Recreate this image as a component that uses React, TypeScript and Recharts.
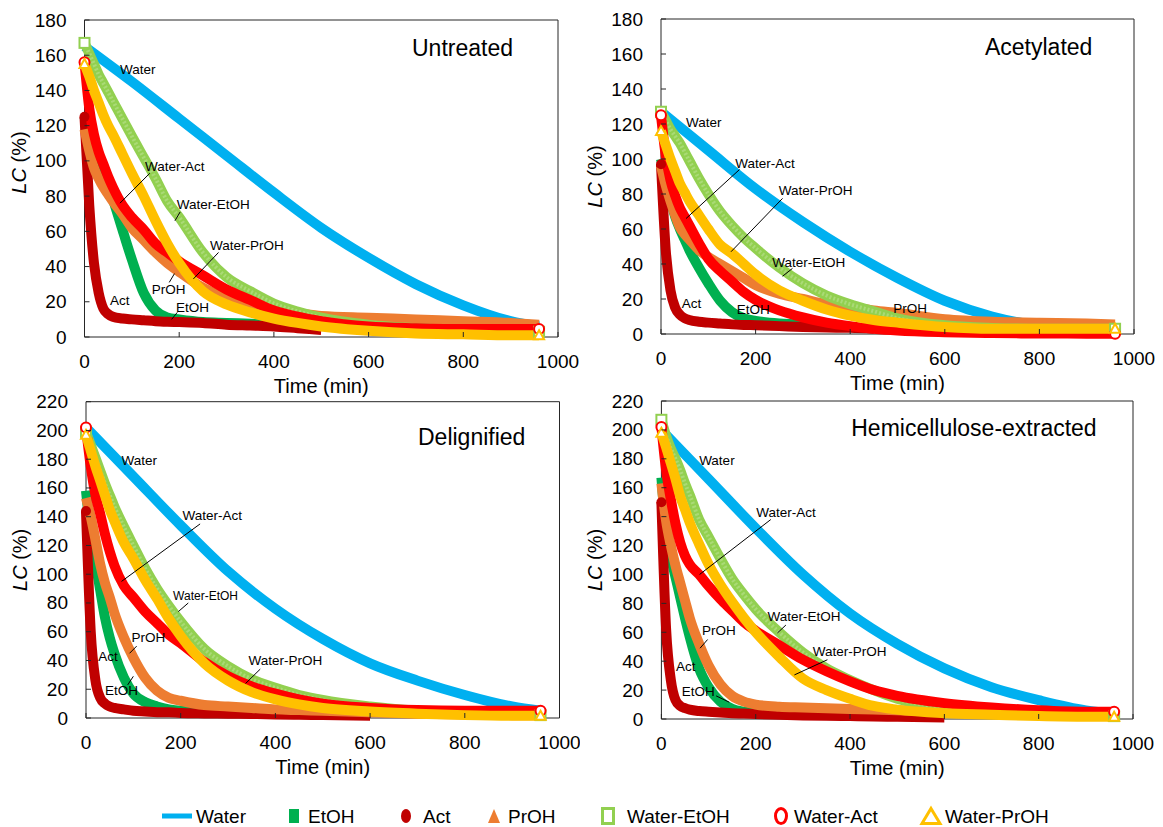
import React from "react";
import {
  LineChart,
  Line,
  XAxis,
  YAxis,
  ReferenceArea,
  ReferenceLine,
  ReferenceDot,
} from "recharts";

const FONT = '"Liberation Sans", Arial, Helvetica, sans-serif';
const _ = null;

// sampling times (min) shared by all curves
const TIME = [0, 10, 20, 30, 40, 50, 60, 80, 100, 125, 150, 175, 200, 250, 300, 350, 400, 450, 500, 600, 700, 800, 900, 960];
const X_TICKS = [0, 200, 400, 600, 800, 1000];
const Y_TICKS_180 = [0, 20, 40, 60, 80, 100, 120, 140, 160, 180];
const Y_TICKS_220 = [0, 20, 40, 60, 80, 100, 120, 140, 160, 180, 200, 220];

// Untreated
const U_WATER = [165, _, _, _, _, _, _, _, 145, _, _, _, 124, _, 103, _, 82, _, 62, 45, 30, 18, 9, 6];
const U_ETOH = [125, 115, 107, 100, 92, 85, 78, 61, 44, 25, 15, 11, 10, 8.5, 8, 7.5, 7, 6.5, _, _, _, _, _, _];
const U_ACT = [125, 75, 42, 25, 16, 13, 11.5, 10.5, 10, 9.5, 9, 8.7, 8.5, 8, 7, 6.5, 6, 5, 4, _, _, _, _, _];
const U_PROH = [118, 106, 96, 90, 85, 81, 77, 70, 62, 55, 48, 42, 37, 28, 22, 17.5, 15, 13.5, 12, 11, 10, 9, 8, 7];
const U_WETOH = [167, 161, 155, 149, 144, 139, 134, 124, 114, 102, 90, 77, 68, 48, 34, 26, 19, 14.5, 11, 7, 5, 4, 3, 3];
const U_WACT = [156, 130, 115, 105, 98, 91, 85, 75, 68, 61, 53, 48, 43, 35, 27, 21, 15, 11.5, 9, 6, 5, 4.5, 4.5, 4.5];
const U_WPROH = [155, 148, 140, 133, 126, 120, 115, 104, 93, 80, 66, 53, 42, 26, 18.5, 14, 10.5, 8, 6, 3.5, 2, 1.5, 1, 1];

// Acetylated
const A_WATER = [127, _, _, _, _, _, _, _, 105, _, _, _, 83, _, 64, _, 47, _, 32, 19, 10, 5, 4, 4];
const A_ETOH = [100, 88, 77, 67, 60, 54, 48, 38, 29, 19, 12.5, 9, 7.5, 6, 5.5, _, _, _, _, _, _, _, _, _];
const A_ACT = [97, 48, 25, 15, 11, 9, 8, 7, 6.5, 6, 5.5, 5.2, 5, 4.5, 4, 3.7, 3.5, 3, _, _, _, _, _, _];
const A_PROH = [96, 85, 76, 68, 61, 57, 54, 48, 44, 40, 36, 32, 28, 23, 20, 17, 15.5, 13.5, 12, 8.5, 7, 6.5, 6, 5.5];
const A_WETOH = [127, 122, 117, 113, 109, 104, 99, 89, 80, 70, 62, 55, 49, 38, 29, 22, 17, 13, 9, 5, 3.5, 3, 3, 3];
const A_WACT = [125, 102, 88, 79, 72, 67, 62, 52, 43, 36, 30, 24, 19.5, 13.5, 9.5, 6.5, 4.5, 3, 2, 1, 0.5, 0.3, 0.2, 0.2];
const A_WPROH = [116, 108, 100, 93, 86, 81, 76, 68, 60, 51, 46, 40, 34, 25, 19, 14, 10.5, 8, 6.5, 4, 3, 3, 3, 3];

// Delignified
const D_WATER = [202, _, _, _, _, _, _, _, 168, _, _, _, 134, _, 102, _, 76, _, 55, 38, 26, 16, 8, 5];
const D_ETOH = [158, 128, 108, 89, 70, 56, 45, 28, 17, 11, 8, 6, 5, 4.5, 4, _, _, _, _, _, _, _, _, _];
const D_ACT = [144, 60, 26, 14, 10, 8, 7, 6, 5, 4.5, 4, 4, 3.5, 3.2, 3, 2.8, 2.5, 2.2, 2, 1.5, _, _, _, _];
const D_PROH = [153, 140, 124, 107, 94, 84, 73, 56, 42, 28, 19, 14, 12, 9, 8, 7, 6, 5.5, 5, 4, 3, 2.5, 2, 2];
const D_WETOH = [199, 190, 181, 172, 163, 155, 147, 133, 120, 104, 90, 78, 67, 48, 36, 27, 21, 16, 12.5, 8, 5, 3.5, 2.5, 2];
const D_WACT = [202, 175, 155, 142, 128, 116, 106, 92, 84, 74, 66, 58, 52, 39, 29, 22, 17, 13, 10, 7, 5.5, 5, 5, 5];
const D_WPROH = [197, 186, 175, 165, 155, 145, 137, 122, 111, 96, 83, 69, 57, 38, 26, 18, 13, 9.5, 7, 4.5, 3, 2, 1.5, 1.5];

// Hemicellulose-extracted
const H_WATER = [200, _, _, _, _, _, _, _, 166, _, _, _, 132, _, 100, _, 73, _, 52, 35, 22, 13, 6, 4];
const H_ETOH = [167, 130, 112, 98, 84, 70, 57, 35, 22, 12, 7, 5, 4, 3.5, 3, _, _, _, _, _, _, _, _, _];
const H_ACT = [150, 62, 27, 13, 9, 7.5, 6.5, 5.5, 5, 4.5, 4, 3.8, 3.5, 3, 2.5, 2.2, 2, 1.8, 1.5, 1, _, _, _, _];
const H_PROH = [163, 137, 120, 106, 94, 82, 70, 52, 37, 24, 16, 12, 10, 8.5, 8, 7.5, 7, 6.5, 6, 5, 4, 3, 2.5, 2.5];
const H_WETOH = [207, 196, 187, 180, 172, 163, 155, 138, 126, 111, 97, 86, 76, 60, 46, 35, 27, 20, 14, 8, 5, 3, 2, 2];
const H_WACT = [202, 172, 152, 135, 122, 113, 107, 100, 92, 83, 75, 67, 61, 51, 41, 33, 26, 20, 16, 11, 8, 6, 5, 5];
const H_WPROH = [198, 188, 177, 166, 154, 145, 136, 121, 107, 93, 81, 70, 60, 43, 28, 20, 14, 9, 6.5, 4, 3, 2, 1.5, 1.5];

const SERIES = [
  { key: "water", name: "Water", color: "#00B0F0", marker: "dash" },
  { key: "etoh", name: "EtOH", color: "#00B050", marker: "square" },
  { key: "act", name: "Act", color: "#C00000", marker: "circle" },
  { key: "proh", name: "PrOH", color: "#ED7D31", marker: "triangle" },
  { key: "wetoh", name: "Water-EtOH", color: "#92D050", marker: "openSquare" },
  { key: "wact", name: "Water-Act", color: "#FF0000", marker: "openCircle" },
  { key: "wproh", name: "Water-PrOH", color: "#FFC000", marker: "openTriangle" },
];

type Note = { text: string; x: number; y: number; size?: number; line?: number[] };

const NOTES_U: Note[] = [
  { text: "Water", x: 75, y: 152 },
  { text: "Water-Act", x: 128, y: 97, line: [138, 93, 75, 76] },
  { text: "Water-EtOH", x: 195, y: 75, line: [202, 71, 191, 66] },
  { text: "Water-PrOH", x: 265, y: 52, line: [283, 48, 230, 33] },
  { text: "PrOH", x: 142, y: 27, line: [179, 31, 190, 36] },
  { text: "Act", x: 54, y: 21 },
  { text: "EtOH", x: 193, y: 17, line: [196, 14, 184, 10] },
];
const NOTES_A: Note[] = [
  { text: "Water", x: 53, y: 121 },
  { text: "Water-Act", x: 157, y: 97.5, line: [166, 94, 53, 66] },
  { text: "Water-PrOH", x: 249, y: 82, line: [257, 77.5, 148, 47] },
  { text: "Water-EtOH", x: 235, y: 41, line: [278, 37.5, 257, 33] },
  { text: "Act", x: 44, y: 17.5 },
  { text: "EtOH", x: 160, y: 14 },
  { text: "PrOH", x: 491, y: 14.7 },
];
const NOTES_D: Note[] = [
  { text: "Water", x: 75, y: 179 },
  { text: "Water-Act", x: 204, y: 141, line: [241, 135, 75, 95] },
  { text: "Water-EtOH", x: 184, y: 85, size: 12, line: [216, 80, 195, 74] },
  { text: "PrOH", x: 96, y: 56, line: [107, 50, 92, 45] },
  { text: "Act", x: 26, y: 43 },
  { text: "EtOH", x: 40, y: 19, line: [88, 23, 100, 29] },
  { text: "Water-PrOH", x: 343, y: 40, line: [368, 34, 337, 24] },
];
const NOTES_H: Note[] = [
  { text: "Water", x: 80, y: 179 },
  { text: "Water-Act", x: 201, y: 143, line: [232, 138, 81, 100] },
  { text: "Water-EtOH", x: 225, y: 71, line: [264, 65, 246, 59.5] },
  { text: "Water-PrOH", x: 321, y: 47, line: [352, 41, 282, 30.5] },
  { text: "PrOH", x: 86, y: 61, line: [98, 55, 82, 49] },
  { text: "Act", x: 31, y: 36 },
  { text: "EtOH", x: 43, y: 19, line: [116, 16, 144, 11.6] },
];

const PANELS = [
  {
    title: "Untreated", titleX: 905, titleY: 164, yMax: 180, yTicks: Y_TICKS_180,
    values: { water: U_WATER, etoh: U_ETOH, act: U_ACT, proh: U_PROH, wetoh: U_WETOH, wact: U_WACT, wproh: U_WPROH },
    notes: NOTES_U, left: 0, top: 0, width: 580, height: 399, mTop: 20, mRight: 22, yw: 84.5, yShift: -16,
  },
  {
    title: "Acetylated", titleX: 912, titleY: 164, yMax: 180, yTicks: Y_TICKS_180,
    values: { water: A_WATER, etoh: A_ETOH, act: A_ACT, proh: A_PROH, wetoh: A_WETOH, wact: A_WACT, wproh: A_WPROH },
    notes: NOTES_A, left: 580, top: 0, width: 580, height: 396, mTop: 19, mRight: 26, yw: 81, yShift: 0,
  },
  {
    title: "Delignified", titleX: 928, titleY: 195.5, yMax: 220, yTicks: Y_TICKS_220,
    values: { water: D_WATER, etoh: D_ETOH, act: D_ACT, proh: D_PROH, wetoh: D_WETOH, wact: D_WACT, wproh: D_WPROH },
    notes: NOTES_D, left: 0, top: 380, width: 580, height: 400, mTop: 21.7, mRight: 20.5, yw: 86, yShift: 0,
  },
  {
    title: "Hemicellulose-extracted", titleX: 923, titleY: 201, yMax: 220, yTicks: Y_TICKS_220,
    values: { water: H_WATER, etoh: H_ETOH, act: H_ACT, proh: H_PROH, wetoh: H_WETOH, wact: H_WACT, wproh: H_WPROH },
    notes: NOTES_H, left: 580, top: 380, width: 580, height: 401, mTop: 21, mRight: 27, yw: 81.4, yShift: 0,
  },
];

const XTick = (props: any) => {
  const { x, y, payload } = props;
  return (
    <g>
      <line x1={x} x2={x} y1={y} y2={y - 5} stroke="#262626" />
      <text x={x} y={y + 24} textAnchor="middle" dominantBaseline="central" fontSize={19} fontFamily={FONT} fill="#000">
        {payload.value}
      </text>
    </g>
  );
};

const YTick = (props: any) => {
  const { x, y, payload } = props;
  return (
    <g>
      <line x1={x} x2={x + 5} y1={y} y2={y} stroke="#262626" />
      <text x={x - 18} y={y} textAnchor="end" dominantBaseline="central" fontSize={19} fontFamily={FONT} fill="#000">
        {payload.value}
      </text>
    </g>
  );
};

// hollow / filled marker drawn at the first and last point of a curve
function marker(kind: string, color: string, cx: number, cy: number, s: number, key: string) {
  const h = s / 2;
  switch (kind) {
    case "openSquare":
      return <rect key={key} x={cx - h} y={cy - h} width={s} height={s} fill="#fff" stroke={color} strokeWidth={2} />;
    case "openCircle":
      return <circle key={key} cx={cx} cy={cy} r={h} fill="#fff" stroke={color} strokeWidth={2} />;
    case "openTriangle":
      return (
        <polygon key={key} points={`${cx},${cy - h} ${cx + h},${cy + h * 0.8} ${cx - h},${cy + h * 0.8}`}
          fill="#fff" stroke={color} strokeWidth={2} />
      );
    case "circle":
      return <circle key={key} cx={cx} cy={cy} r={h} fill={color} />;
    default:
      return <g key={key} />;
  }
}

const makeDot = (kind: string, color: string, last: number) => (props: any) => {
  const { cx, cy, index } = props;
  const key = `dot-${index}`;
  if (cx == null || cy == null) return <g key={key} />;
  if (kind.startsWith("open") && (index === 0 || index === last)) return marker(kind, color, cx, cy, 10, key);
  if (kind === "circle" && index === 0) return marker(kind, color, cx, cy, 10, key);
  return <g key={key} />;
};

function Panel({ p }: { p: any }) {
  const rows = TIME.map((t, i) => {
    const row: Record<string, number | null> = { t };
    SERIES.forEach((s) => {
      row[s.key] = p.values[s.key][i];
    });
    return row;
  });

  const xTitle = (lp: any) => {
    const vb = lp.viewBox;
    return (
      <text x={vb.x + vb.width / 2} y={vb.y + 49} textAnchor="middle" dominantBaseline="central" fontSize={20} fontFamily={FONT} fill="#000">
        Time (min)
      </text>
    );
  };
  const yTitle = (lp: any) => {
    const vb = lp.viewBox;
    const cx = vb.x + vb.width - 66;
    const cy = vb.y + vb.height / 2 + p.yShift;
    return (
      <text x={cx} y={cy} transform={`rotate(-90 ${cx} ${cy})`} textAnchor="middle" dominantBaseline="central" fontSize={20} fontFamily={FONT} fill="#000">
        <tspan fontStyle="italic">LC</tspan> (%)
      </text>
    );
  };

  const lines: React.ReactNode[] = [];
  SERIES.forEach((s) => {
    lines.push(
      <Line key={s.key} type="monotone" dataKey={s.key} stroke={s.color} strokeWidth={10} strokeLinejoin="round"
        connectNulls dot={makeDot(s.marker, s.color, TIME.length - 1)} activeDot={false} isAnimationActive={false} />
    );
    if (s.key === "wetoh") {
      // faint texture of the hollow square markers
      lines.push(
        <Line key={`${s.key}-tex`} type="monotone" dataKey={s.key} stroke="#ffffff" strokeOpacity={0.22} strokeWidth={4}
          strokeDasharray="2 2" connectNulls dot={false} activeDot={false} isAnimationActive={false} legendType="none" />
      );
    }
  });

  return (
    <div style={{ position: "absolute", left: p.left, top: p.top }}>
      <LineChart width={p.width} height={p.height} data={rows} margin={{ top: p.mTop, right: p.mRight, left: 0, bottom: 0 }}>
        <XAxis type="number" dataKey="t" domain={[0, 1000]} ticks={X_TICKS} interval={0} tick={(tp: any) => <XTick {...tp} />}
          tickLine={false} axisLine={false} tickSize={0} tickMargin={0} height={62} label={xTitle} />
        <YAxis type="number" domain={[0, p.yMax]} ticks={p.yTicks} interval={0} tick={(tp: any) => <YTick {...tp} />}
          tickLine={false} axisLine={false} tickSize={0} tickMargin={0} width={p.yw} label={yTitle} />
        <ReferenceArea x1={0} x2={1000} y1={0} y2={p.yMax} fill="none" fillOpacity={0} stroke="#262626" strokeWidth={1} />
        {lines}
        {p.notes.filter((n: Note) => n.line).map((n: Note, i: number) => (
          <ReferenceLine key={`l${i}`} segment={[{ x: n.line![0], y: n.line![1] }, { x: n.line![2], y: n.line![3] }]}
            stroke="#000" strokeWidth={1} />
        ))}
        {p.notes.map((n: Note, i: number) => (
          <ReferenceDot key={`n${i}`} x={n.x} y={n.y} r={0}
            shape={(sp: any) => (
              <text x={sp.cx} y={sp.cy} dominantBaseline="central" fontSize={n.size ?? 13.5} fontFamily={FONT} fill="#000">
                {n.text}
              </text>
            )} />
        ))}
        <ReferenceDot x={p.titleX} y={p.titleY} r={0}
          shape={(sp: any) => (
            <text x={sp.cx} y={sp.cy} textAnchor="end" dominantBaseline="central" fontSize={23} fontFamily={FONT} fill="#000">
              {p.title}
            </text>
          )} />
      </LineChart>
    </div>
  );
}

const LEGEND_POS = [
  { cx: 177, tx: 196 },
  { cx: 294, tx: 308 },
  { cx: 406, tx: 423 },
  { cx: 494, tx: 508 },
  { cx: 608, tx: 627 },
  { cx: 781, tx: 794 },
  { cx: 931, tx: 945 },
];

function LegendIcon({ kind, color, cx, cy }: { kind: string; color: string; cx: number; cy: number }) {
  switch (kind) {
    case "dash":
      return <rect x={cx - 15} y={cy - 2.5} width={30} height={5} fill={color} />;
    case "square":
      return <rect x={cx - 5} y={cy - 7} width={10} height={14} fill={color} />;
    case "circle":
      return <ellipse cx={cx} cy={cy} rx={5} ry={7} fill={color} />;
    case "triangle":
      return <polygon points={`${cx},${cy - 7} ${cx + 6},${cy + 7} ${cx - 6},${cy + 7}`} fill={color} />;
    case "openSquare":
      return <rect x={cx - 5.5} y={cy - 7.5} width={11} height={15} fill="#fff" stroke={color} strokeWidth={3} />;
    case "openCircle":
      return <ellipse cx={cx} cy={cy} rx={5.5} ry={7.5} fill="#fff" stroke={color} strokeWidth={3} />;
    default:
      return <polygon points={`${cx},${cy - 7.5} ${cx + 9},${cy + 7.5} ${cx - 9},${cy + 7.5}`} fill="#fff" stroke={color} strokeWidth={3} />;
  }
}

export default function App() {
  return (
    <div style={{ position: "relative", width: 1163, height: 827, background: "#fff", fontFamily: FONT }}>
      <style>{"body{margin:0;background:#fff}"}</style>
      {PANELS.map((p) => (
        <Panel key={p.title} p={p} />
      ))}
      <svg width={1163} height={30} style={{ position: "absolute", left: 0, top: 801 }}>
        {SERIES.map((s, i) => (
          <g key={s.key}>
            <LegendIcon kind={s.marker} color={s.color} cx={LEGEND_POS[i].cx} cy={15} />
            <text x={LEGEND_POS[i].tx} y={15} dominantBaseline="central" fontSize={19} fontFamily={FONT} fill="#000">
              {s.name}
            </text>
          </g>
        ))}
      </svg>
    </div>
  );
}
